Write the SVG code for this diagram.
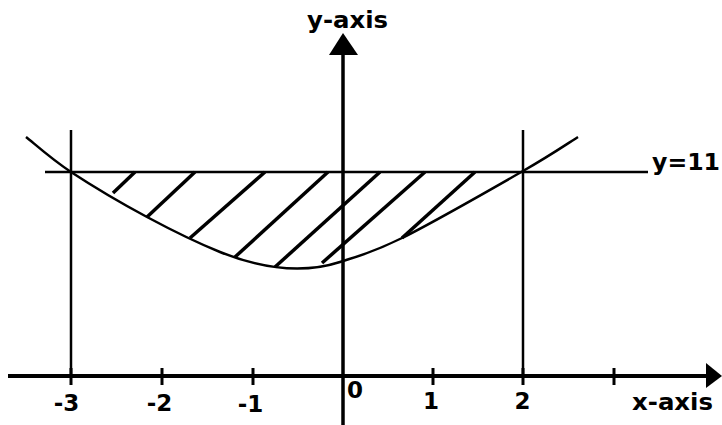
<svg xmlns="http://www.w3.org/2000/svg" width="722" height="425" viewBox="0 0 722 425">
<style>
.ln{stroke:#000;fill:none;stroke-linecap:butt}
.t{font-family:"DejaVu Sans","Liberation Sans",sans-serif;font-weight:bold;font-size:23px;fill:#000}
</style>
<rect width="722" height="425" fill="#fff"/>
<g id="axes">
<line class="ln" x1="8" y1="376" x2="708" y2="376" stroke-width="3.8"/>
<polygon points="706,363 722,376 706,388" fill="#000"/>
<line class="ln" x1="343" y1="52" x2="343" y2="425" stroke-width="3.5"/>
<polygon points="343,33 329,55 358,55" fill="#000"/>
</g>
<g id="ticks" class="ln" stroke-width="3">
<line x1="71" y1="368" x2="71" y2="385"/>
<line x1="162" y1="368" x2="162" y2="385"/>
<line x1="253" y1="368" x2="253" y2="385"/>
<line x1="433" y1="368" x2="433" y2="385"/>
<line x1="523" y1="368" x2="523" y2="385"/>
<line x1="614" y1="368" x2="614" y2="385"/>
</g>
<g id="guides" class="ln" stroke-width="2.5">
<line x1="45" y1="172" x2="648" y2="172"/>
<line x1="71" y1="130" x2="71" y2="376"/>
<line x1="523" y1="130" x2="523" y2="376"/>
</g>
<g id="curve">
<path class="ln" stroke-width="2.5" d="M26,137 C33.5,142.8 50.8,158.7 71,172 C91.2,185.3 122.2,203.7 147,217 C171.8,230.3 199.5,243.7 220,252 C260,268 300,275 340,262 C357.8,256.2 371.5,253.2 402,238 C432.5,222.8 493.7,187.8 523,171 C552.3,154.2 568.8,142.7 578,137"/>
</g>
<g id="hatch" class="ln" stroke-width="3.5">
<line x1="135" y1="172" x2="113" y2="193"/>
<line x1="195" y1="172" x2="147" y2="217"/>
<line x1="265" y1="172" x2="190" y2="238"/>
<line x1="328" y1="172" x2="235" y2="257"/>
<line x1="380" y1="172" x2="275" y2="267"/>
<line x1="425" y1="172" x2="322" y2="263"/>
<line x1="475" y1="172" x2="402" y2="238"/>
</g>
<g id="labels" class="t">
<text x="307" y="28" textLength="81" lengthAdjust="spacingAndGlyphs">y-axis</text>
<text x="652" y="170" textLength="68" lengthAdjust="spacingAndGlyphs">y=11</text>
<text x="632" y="410" textLength="81" lengthAdjust="spacingAndGlyphs">x-axis</text>
<text x="66.5" y="411" text-anchor="middle">-3</text>
<text x="159.5" y="411" text-anchor="middle">-2</text>
<text x="250.5" y="412" text-anchor="middle">-1</text>
<text x="355" y="398" text-anchor="middle">0</text>
<text x="431" y="409" text-anchor="middle">1</text>
<text x="522.5" y="409" text-anchor="middle">2</text>
</g>
</svg>
